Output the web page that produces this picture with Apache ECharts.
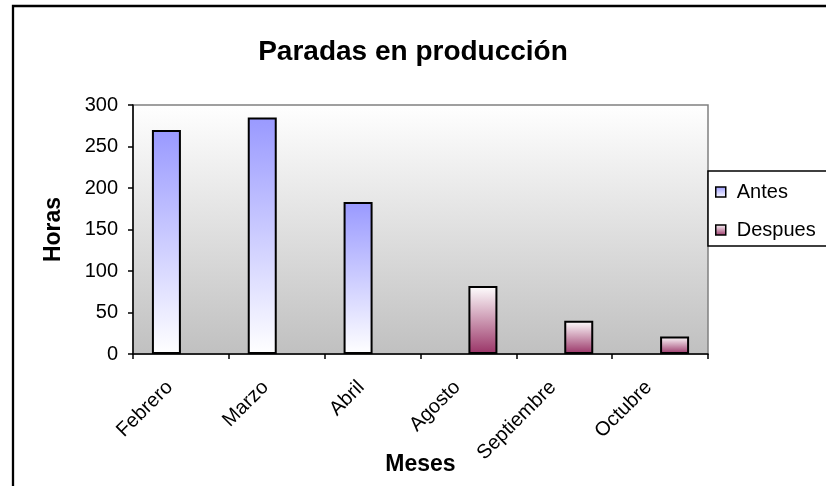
<!DOCTYPE html>
<html>
<head>
<meta charset="utf-8">
<script src="https://cdn.jsdelivr.net/npm/echarts@6/dist/echarts.min.js"></script>
<style>
html,body{margin:0;padding:0;background:#fff;}
#chart{width:826px;height:486px;}
</style>
</head>
<body>
<div id="chart"></div>
<script>
var categories = ['Febrero', 'Marzo', 'Abril', 'Agosto', 'Septiembre', 'Octubre'];
var antes = [270, 285, 183, null, null, null];
var despues = [null, null, null, 82, 40, 21];
var yTicks = [0, 50, 100, 150, 200, 250, 300];

var FONT = 'Arial, "Liberation Sans", sans-serif';
var chart = echarts.init(document.getElementById('chart'), null, {renderer: 'canvas'});

var gradAntes = {type: 'linear', x: 0, y: 0, x2: 0, y2: 1,
  colorStops: [{offset: 0, color: '#9999ff'}, {offset: 1, color: '#ffffff'}]};
var gradDespues = {type: 'linear', x: 0, y: 0, x2: 0, y2: 1,
  colorStops: [{offset: 0, color: '#ffffff'}, {offset: 1, color: '#993366'}]};

chart.setOption({
  animation: false,
  backgroundColor: '#ffffff',
  textStyle: {fontFamily: FONT},
  title: {
    text: 'Paradas en producción',
    left: 'center',
    top: 38,
    padding: [0, 0, 0, 12],
    textStyle: {fontFamily: FONT, fontSize: 28, fontWeight: 'bold', color: '#000'}
  },
  legend: {
    orient: 'vertical',
    left: 715,
    top: 182,
    padding: 0,
    itemGap: 18,
    itemWidth: 10,
    itemHeight: 10,
    icon: 'rect',
    itemStyle: {borderColor: '#000', borderWidth: 1.5},
    textStyle: {fontFamily: FONT, fontSize: 20, color: '#000', lineHeight: 20, padding: [0, 0, 0, 6]},
    data: ['Antes', 'Despues']
  },
  grid: {
    left: 133, top: 105, right: 118, bottom: 132,
    containLabel: false,
    outerBoundsMode: 'none',
    show: true,
    borderColor: '#808080',
    borderWidth: 1.5,
    backgroundColor: {type: 'linear', x: 0, y: 0, x2: 0, y2: 1,
      colorStops: [{offset: 0, color: '#ffffff'}, {offset: 1, color: '#c0c0c0'}]}
  },
  xAxis: {
    type: 'category',
    data: categories,
    boundaryGap: true,
    name: 'Meses',
    nameLocation: 'middle',
    nameGap: 99,
    nameMoveOverlap: false,
    nameTextStyle: {fontFamily: FONT, fontSize: 23, fontWeight: 'bold', color: '#000'},
    axisLine: {lineStyle: {color: '#000', width: 1.5}},
    axisTick: {show: true, length: 5, inside: false, alignWithLabel: false, lineStyle: {color: '#000', width: 1.5}},
    axisLabel: {rotate: 45, margin: 19, interval: 0, padding: [0, 16, 0, 0],
      fontFamily: FONT, fontSize: 20, color: '#000'},
    splitLine: {show: false}
  },
  yAxis: {
    type: 'value',
    min: 0, max: 300, interval: 50,
    name: 'Horas',
    nameLocation: 'middle',
    nameRotate: 90,
    nameGap: 68,
    nameMoveOverlap: false,
    nameTextStyle: {fontFamily: FONT, fontSize: 23, fontWeight: 'bold', color: '#000'},
    axisLine: {show: true, lineStyle: {color: '#000', width: 1.5}},
    axisTick: {show: true, length: 5, inside: false, lineStyle: {color: '#000', width: 1.5}},
    axisLabel: {margin: 15, fontFamily: FONT, fontSize: 20, color: '#000',
      formatter: function (v) { return yTicks.indexOf(v) >= 0 ? String(v) : ''; }},
    splitLine: {show: false}
  },
  series: [
    {
      name: 'Antes', type: 'bar', data: antes,
      barWidth: 29, barGap: '0%',
      itemStyle: {color: gradAntes, borderColor: '#000', borderWidth: 2}
    },
    {
      name: 'Despues', type: 'bar', data: despues,
      barWidth: 29, barGap: '0%',
      itemStyle: {color: gradDespues, borderColor: '#000', borderWidth: 2}
    }
  ],
  graphic: [
    {type: 'rect', z: -1, silent: true,
      shape: {x: 13, y: 6, width: 830, height: 490},
      style: {fill: 'none', stroke: '#000', lineWidth: 2.3}},
    {type: 'rect', z: 0, silent: true,
      shape: {x: 708, y: 171, width: 130, height: 75},
      style: {fill: '#ffffff', stroke: '#000', lineWidth: 1.5}}
  ]
});
</script>
</body>
</html>
